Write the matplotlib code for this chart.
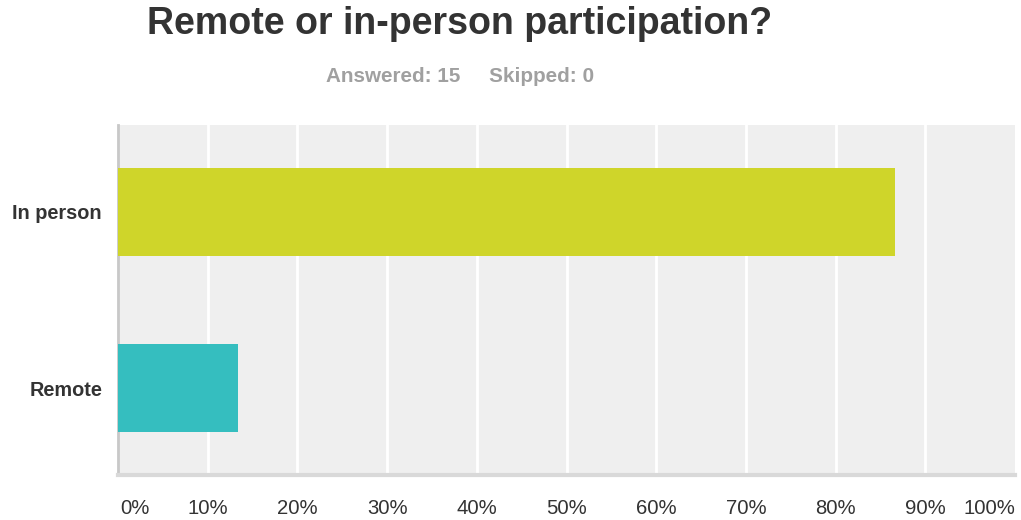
import matplotlib
matplotlib.use("Agg")
import matplotlib.pyplot as plt
import matplotlib.transforms as mtransforms

categories = ["In person", "Remote"]
values = [86.67, 13.33]
colors = ["#cfd52a", "#35bebf"]
ticks = [0, 10, 20, 30, 40, 50, 60, 70, 80, 90, 100]
tick_labels = ["0%", "10%", "20%", "30%", "40%", "50%", "60%", "70%", "80%", "90%", "100%"]
title = "Remote or in-person participation?"
subtitle = "Answered: 15     Skipped: 0"

W, H = 1021, 520
fig = plt.figure(figsize=(W / 100, H / 100), dpi=100)
fig.patch.set_facecolor("white")
ax = fig.add_axes([118 / W, 1 - 475 / H, 897 / W, 350 / H])
ax.set_facecolor("#efefef")

ypos = list(range(len(categories)))
ax.barh(ypos, values, height=0.5, color=colors, zorder=3)
ax.set_xlim(0, 100)
ax.set_ylim(1.494, -0.494)

for t in ticks[1:-1]:
    ax.axvline(t, color="white", lw=2, zorder=1)

for s in ["top", "right"]:
    ax.spines[s].set_visible(False)
ax.spines["left"].set_color("#c8c8c8")
ax.spines["left"].set_linewidth(2)
ax.spines["bottom"].set_color("#d9d9d9")
ax.spines["bottom"].set_linewidth(3)

ax.set_xticks([])
ax.set_yticks(ypos)
ax.set_yticklabels(categories, fontsize=14.3, fontweight="bold", color="#333333",
                   family="Liberation Sans")
ax.tick_params(axis="y", length=0, pad=11.5)

trans = mtransforms.blended_transform_factory(ax.transData, fig.transFigure)
for t, lab in zip(ticks, tick_labels):
    if t == 0:
        x, ha = 0.3, "left"
    elif t == 100:
        x, ha = 100, "right"
    else:
        x, ha = t, "center"
    ax.text(x, 1.0 - 508 / H, lab, transform=trans, ha=ha, va="center",
            fontsize=14.6, color="#333333", family="Liberation Sans")

fig.text(460 / W, 1 - 24 / H, title, ha="center", va="center", fontsize=27,
         fontweight="bold", color="#333333", family="Liberation Sans")
fig.text(460 / W, 1 - 76 / H, subtitle, ha="center", va="center", fontsize=14.9,
         fontweight="bold", color="#a0a0a0", family="Liberation Sans")

fig.savefig("out.png", dpi=100, facecolor="white")
